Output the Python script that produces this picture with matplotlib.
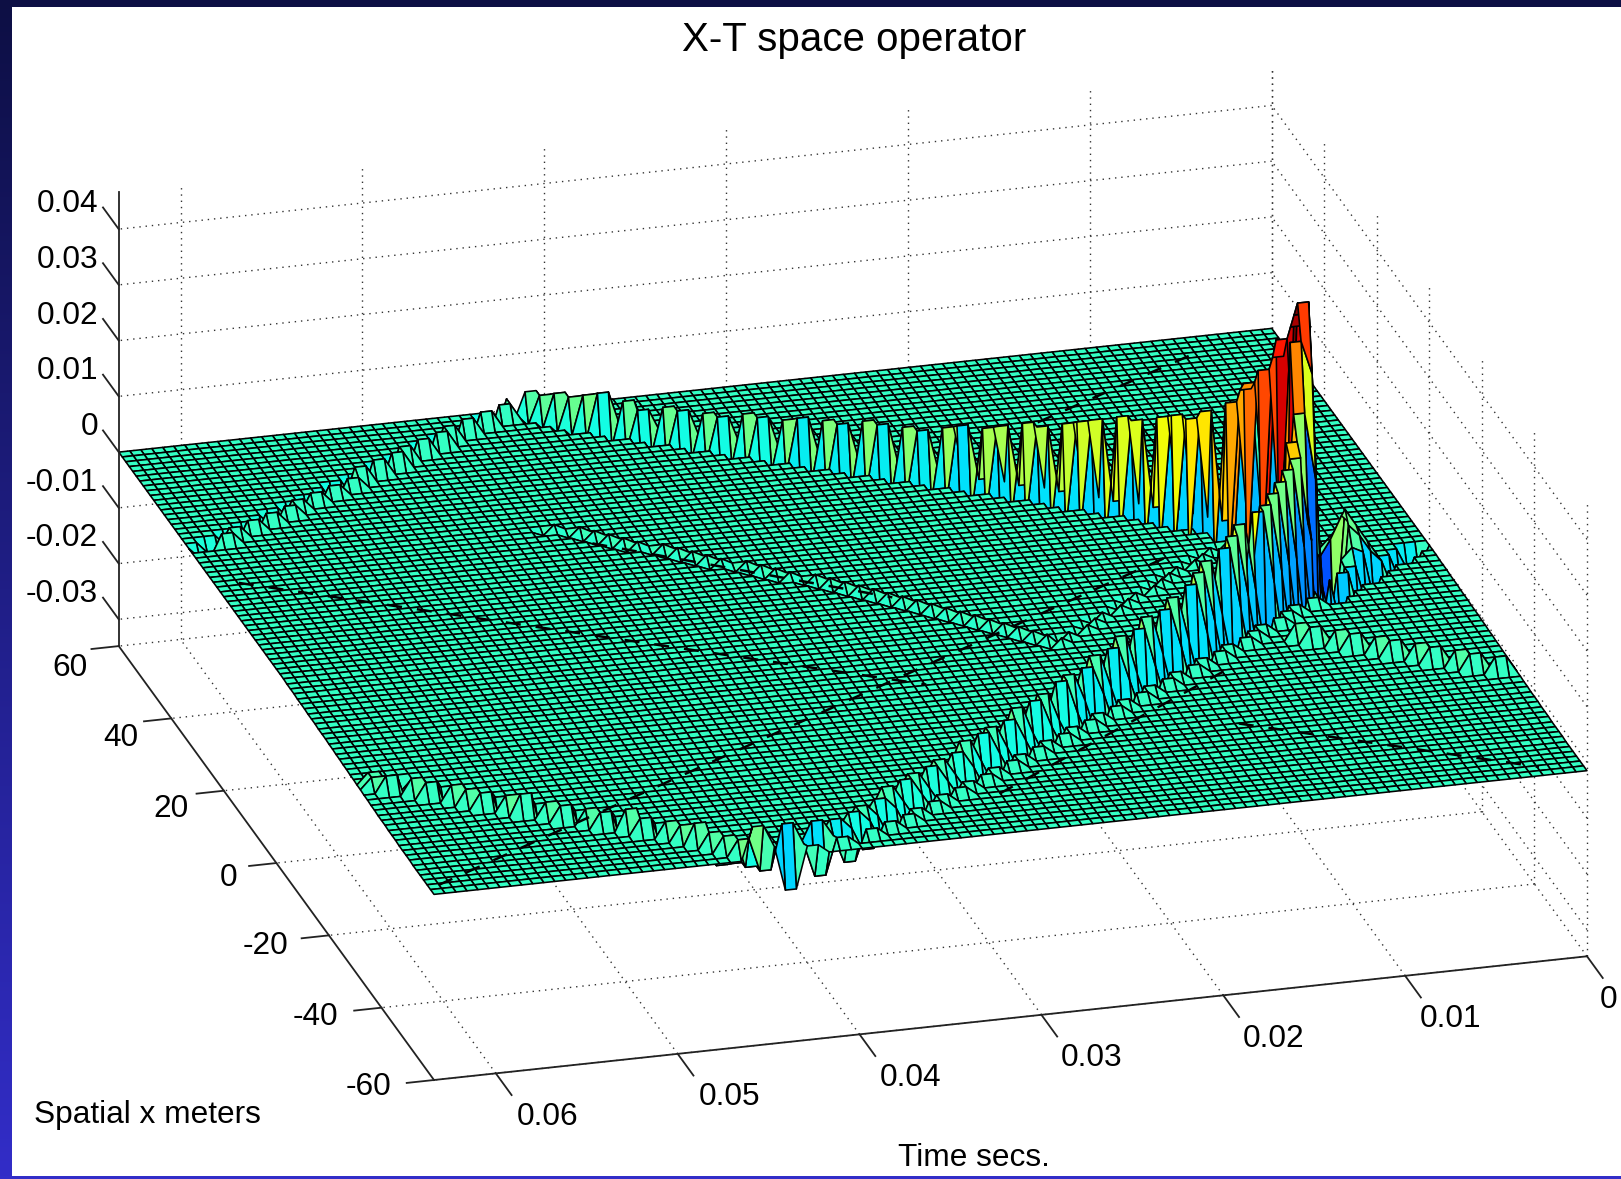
import numpy as np
import matplotlib
matplotlib.use("Agg")
import matplotlib.pyplot as plt
from matplotlib.patches import Rectangle
from mpl_toolkits.mplot3d import proj3d

plt.rcParams['font.family'] = ['Liberation Sans', 'DejaVu Sans']

W, H = 1621, 1179
T_MAX = 0.0634
Z_LO, Z_HI = -0.0348, 0.0467

t_ticks = [0, 0.01, 0.02, 0.03, 0.04, 0.05, 0.06]
t_labels = ['0', '0.01', '0.02', '0.03', '0.04', '0.05', '0.06']
x_ticks = [-60, -40, -20, 0, 20, 40, 60]
z_ticks = [-0.03, -0.02, -0.01, 0, 0.01, 0.02, 0.03, 0.04]
z_labels = ['-0.03', '-0.02', '-0.01', '0', '0.01', '0.02', '0.03', '0.04']

# main wavefront, read row by row going out from the apex (ms, and z in 0.001)
back_time = [7.3, 7.36, 7.5, 7.7, 7.9, 8.3, 8.8, 9.3, 9.96, 10.65, 11.4, 12.2, 12.98, 13.8, 14.6, 15.5,
             16.3, 17.2, 18.05, 18.95, 19.85, 20.7, 21.6, 22.5, 23.4, 24.3, 25.2, 26.1, 27.0, 27.9, 28.8,
             29.7, 30.6, 31.5, 32.4, 33.3, 34.2, 35.2, 36.1, 37.0, 37.9, 38.8, 39.5, 40.0, 40.5, 41.0]
back_peak = [46, 43, 40, 37, 33, 30, 27, 25, 22, 20, 18, 18, 17, 16, 16, 15, 14, 13, 12, 12, 11, 10, 10, 9,
             8, 8, 8, 8, 7, 7, 7, 6, 6, 6, 5, 5, 5, 5, 4, 5, 6, 5, 4, 4, 3, 3]
back_trough = [-8, -8, -8, -8, -8, -7, -7, -7, -7, -6, -6, -6, -6, -6, -6, -5, -5, -5, -5, -5, -5, -5, -4,
               -4, -4, -4, -4, -4, -4, -4, -3, -3, -3, -3, -3, -3, -3, -3, -3, -3, -2, -2, -2, -2, -2, -2]
front_time = [7.3, 7.5, 7.8, 8.1, 8.5, 9.0, 9.6, 10.3, 11.0, 11.8, 12.6, 13.4, 14.2, 15.1, 16.0, 16.9, 17.8,
              18.7, 19.6, 20.5, 21.4, 22.3, 23.2, 24.1, 25.0, 25.9, 26.8, 27.7, 28.6, 29.5, 30.4, 31.3,
              32.2, 33.1, 34.0, 34.9, 35.8, 36.7, 37.6, 38.5, 39.4, 40.6, 41.8, 43.2, 45.0]
front_peak = [40, 28, 24, 22, 21, 20, 19, 18, 18, 17, 16, 15, 14, 13, 12, 11, 10, 10, 9, 9, 8, 8, 7, 7, 7,
              6, 6, 6, 5, 5, 5, 5, 4, 4, 4, 4, 4, 4, 3, 3, 3, 3, 4, 5, 6]
front_mid = [34, 16, 9, 7, 7, 6, 6, 6, 5, 5, 5, 4, 4, 4, 3, 3, 3, 3, 2, 2, 2, 2, 2, 2, 1, 1, 1, 1, 1, 1, 1, 1,
             1, 1, 1, 1, 1, 1, 1, 1, 1, 1, 1, 1, 2]
front_trough = [-16, -15, -14, -13, -12, -11, -10, -9, -8, -8, -7, -7, -6, -6, -6, -5, -5, -5, -5, -4, -4,
                -4, -4, -4, -4, -3, -3, -3, -3, -3, -3, -3, -3, -2, -2, -2, -2, -2, -3, -3, -3, -3, -4, -5, -6]

# low band running from the apex to the t=0 edge: grid row, time ms
lip_row = [45, 44, 43, 42, 41, 40, 39, 38, 37]
lip_time = [0.5, 1.2, 2.0, 2.8, 3.6, 4.4, 5.2, 6.0, 6.8]
lip_z = [-4, -5, -5, -6, -6, -6, -7, -7, -7]

# wrapped ridges at the far time end, by grid row from the x edge
wrap_front_time = [45.0, 45.6, 46.2, 46.9, 47.6, 48.3, 49.1, 50.0, 50.8, 51.7, 52.6, 53.5, 54.4, 55.3, 56.2,
                   57.1, 58.0, 58.8, 59.7, 60.6, 61.5, 62.4, 63.3]
wrap_front_peak = [5, 3, 3, 3, 4, 3, 3, 3, 4, 3, 3, 3, 3, 4, 3, 3, 3, 3, 3, 3, 3, 2, 2]
wrap_back_time = [41.0, 42.0, 43.0, 44.1, 45.1, 46.2, 47.2, 48.2, 49.3, 50.3, 51.4, 52.4, 53.4, 54.5, 55.5,
                  56.6, 57.6, 58.6, 59.7, 60.7, 61.8]
wrap_back_peak = [3, 3, 3, 3, 3, 3, 3, 3, 3, 3, 3, 3, 2, 2, 2, 2, 2, 2, 2, 2, 2]

# small ripple near the right corner: x row, time ms
ripple_row = [20, 21, 22, 23, 24, 25, 26, 27, 28, 29, 30]
ripple_time = [0.6, 1.6, 2.5, 3.5, 4.4, 5.3, 6.2, 7.1, 8.0, 8.9, 9.8]

# lattice band inside the V, rows 66 down to 34, then its return towards the apex, rows 35 up to 49
inner_time = [43.8, 43.1, 42.4, 41.6, 40.9, 40.2, 39.5, 38.7, 38.0, 37.3, 36.6, 35.8, 35.1, 34.4, 33.7, 32.9,
              32.2, 31.5, 30.8, 30.0, 29.3, 28.7, 28.1, 27.5, 27.0, 26.4, 25.8, 25.2, 24.6, 24.1, 23.5, 22.9, 22.4]
return_time = [21.6, 20.8, 20.0, 19.2, 18.4, 17.6, 16.8, 16.0, 15.2, 14.4, 13.6, 12.8, 12.0, 11.2, 10.4]

# green bump beside the apex: t columns by x rows, z in 0.001
hump_rows = [42, 43, 44, 45, 46]
hump_cols = [6, 7, 8, 9]
hump_z = [[1, 3, 4, 2],
          [2, 5, 7, 3],
          [3, 6, 9, 4],
          [2, 5, 7, 3],
          [1, 3, 4, 2]]

# sag of the surface towards the x=-60 edge, rows 0 to 45, in 0.001
row_level = [-1.5, -1.5, -1.5, -1.5, -1.5, -1.5, -1.5, -1.4, -1.4, -1.4, -1.4, -1.3, -1.3, -1.3, -1.2, -1.2,
             -1.2, -1.1, -1.1, -1.0, -1.0, -0.9, -0.9, -0.8, -0.8, -0.7, -0.7, -0.6, -0.6, -0.5, -0.5, -0.4,
             -0.4, -0.4, -0.3, -0.3, -0.3, -0.2, -0.2, -0.2, -0.1, -0.1, -0.1, 0, 0, 0]

# dark creases across the flat part: (t0 ms, x0, t1 ms, x1)
crease_t0 = [63.0, 62.0, 15.3, 16.2, 42.5, 31.0]
crease_x0 = [-59.0, 24.0, 43.2, -39.6, 24.4, -51.0]
crease_t1 = [13.0, 30.7, 4.4, 2.5, 29.2, 14.4]
crease_x1 = [6.0, -21.0, 57.0, -59.0, 2.3, -24.8]

# pixel nudges of the tick labels, (right, down)
x_nudge = [(-10, -12), (-10, -9), (-8, -8), (-6, -4), (-2, 0), (0, 1), (2, 3)]
t_nudge = [(-6, 3), (-4, 3), (1, 3), (1, 3), (2, 3), (3, 3), (3, 3)]

t_grid = np.linspace(0, T_MAX, 106)
x_grid = np.linspace(-60, 60, 91)
apex_row = 45
z_grid = np.zeros((len(x_grid), len(t_grid)))


def col_of(ms):
    return min(int(np.argmin(np.abs(t_grid - ms * 1e-3))), len(t_grid) - 3)


def put(row, first, last, value):
    # clipped so ridges near the edges stay on the grid
    z_grid[row, max(first, 0):min(last, len(t_grid) - 1) + 1] = value


for row, ms in zip(range(66, 33, -1), inner_time):
    c = col_of(ms)
    put(row, c, c, 0.001)
    put(row, c + 1, c + 1, -0.0008)
for row, ms in zip(range(35, 50), return_time):
    c = col_of(ms)
    put(row, c, c, 0.001)
    put(row, c + 1, c + 1, -0.0008)
for row, ms, amp in zip(range(len(wrap_front_time)), wrap_front_time, wrap_front_peak):
    c = col_of(ms)
    put(row, c, c + 1, amp * 1e-3)
    put(row, c - 2, c - 1, -amp * 1e-3)
for row, ms, amp in zip(range(90, 0, -1), wrap_back_time, wrap_back_peak):
    c = col_of(ms)
    put(row, c - 1, c, amp * 1e-3)
    put(row, c + 1, c + 2, -amp * 1e-3)
for row, ms in zip(ripple_row, ripple_time):
    c = col_of(ms)
    put(row, c, c + 1, 0.003)
for k, (ms, pk, tr) in enumerate(zip(back_time, back_peak, back_trough)):
    c = col_of(ms)
    put(apex_row + k, c - 1, c, pk * 1e-3)
    put(apex_row + k, c + 1, c + 2, tr * 1e-3)
for i, row in enumerate(hump_rows):
    for j, col in enumerate(hump_cols):
        z_grid[row, col] = hump_z[i][j] * 1e-3
for k, (ms, pk, mid, tr) in enumerate(zip(front_time, front_peak, front_mid, front_trough), start=1):
    c = col_of(ms)
    put(apex_row - k, c, c + 1, pk * 1e-3)
    put(apex_row - k, c - 1, c - 1, mid * 1e-3)
    put(apex_row - k, c - 3, c - 2, tr * 1e-3)
    if k >= 4:
        put(apex_row - k, c - 5, c - 4, 0.0015)
for row, ms, dip in zip(lip_row, lip_time, lip_z):
    c = col_of(ms)
    put(row, c, c + 1, dip * 1e-3)

z_draw = z_grid.copy()
for row, level in enumerate(row_level):
    z_draw[row] += level * 1e-3

fig = plt.figure(figsize=(W / 100, H / 100), dpi=100, facecolor='white')

# slide frame
ramp = np.linspace(0, 1, H)[:, None, None]
strip = np.array([13, 15, 68]) + ramp * (np.array([50, 45, 200]) - np.array([13, 15, 68]))
fig.figimage(np.repeat(strip, 12, axis=1) / 255, xo=0, yo=0, origin='upper', zorder=0)
fig.add_artist(Rectangle((0, 1 - 7 / H), 1, 7 / H, transform=fig.transFigure, color='#0d0f44', lw=0))
fig.add_artist(Rectangle((0, 0), 1, 3 / H, transform=fig.transFigure, color='#322dc8', lw=0))

ax = fig.add_axes([0, 0, H / W, 1], projection='3d', facecolor='none')
ax.set_proj_type('ortho')
ax.view_init(elev=22.6, azim=254.4)
ax.set_box_aspect((1158, 1134, 476))
ax.set_xlim(T_MAX, 0)
ax.set_ylim(-60, 60)
ax.set_zlim(Z_LO, Z_HI)
ax.set_axis_off()
ax.computed_zorder = False


def corner_px(t, x, z):
    ax.apply_aspect()
    a, b, _ = proj3d.proj_transform(t, x, z, ax.get_proj())
    return ax.transData.transform((a, b))


def label_at(t, x, z, text, ha, va, nudge=(0, 0)):
    px = corner_px(t, x, z)
    fig.text((px[0] + nudge[0]) / W, (px[1] - nudge[1]) / H, text, ha=ha, va=va, fontsize=22.8)


# fit the box on the left front and right front floor corners
left_px = np.array([434, H - 1080])
right_px = np.array([1587, H - 957])
p0, p1 = corner_px(T_MAX, -60, Z_LO), corner_px(0, -60, Z_LO)
side = H * (right_px[0] - left_px[0]) / (p1[0] - p0[0])
ax.set_position([0, 0, side / W, side / H])
shift = left_px - corner_px(T_MAX, -60, Z_LO)
ax.set_position([shift[0] / W, shift[1] / H, side / W, side / H])

dots = dict(color='#333333', lw=1.0, ls=(0, (1, 3.5)), zorder=1)
for t in t_ticks:
    ax.plot([t, t], [-60, 60], [Z_LO, Z_LO], **dots)
    ax.plot([t, t], [60, 60], [Z_LO, Z_HI], **dots)
for x in x_ticks:
    ax.plot([0, T_MAX], [x, x], [Z_LO, Z_LO], **dots)
    ax.plot([0, 0], [x, x], [Z_LO, Z_HI], **dots)
for z in z_ticks:
    ax.plot([0, T_MAX], [60, 60], [z, z], **dots)
    ax.plot([0, 0], [-60, 60], [z, z], **dots)

norm = plt.Normalize(-0.032, 0.046)
T, X = np.meshgrid(t_grid, x_grid)
ax.plot_surface(T, X, z_draw, rstride=1, cstride=1, facecolors=plt.cm.jet(norm(z_grid)), shade=False,
                edgecolor='black', linewidth=1.15, zorder=2)

for t0, x0, t1, x1 in zip(crease_t0, crease_x0, crease_t1, crease_x1):
    ax.plot([t0 * 1e-3, t1 * 1e-3], [x0, x1], [-0.0006, -0.0006], color='black', lw=1.8, ls=(0, (6, 6)), zorder=3)

solid = dict(color='#222222', lw=1.3, zorder=4)
ax.plot([0, T_MAX], [-60, -60], [Z_LO, Z_LO], **solid)
ax.plot([T_MAX, T_MAX], [-60, 60], [Z_LO, Z_LO], **solid)
ax.plot([T_MAX, T_MAX], [60, 60], [Z_LO, Z_HI], **solid)

for t, label, nudge in zip(t_ticks, t_labels, t_nudge):
    ax.plot([t, t], [-60, -66], [Z_LO, Z_LO], **solid)
    label_at(t, -67, Z_LO, label, 'left', 'top', nudge)
for x, nudge in zip(x_ticks, x_nudge):
    ax.plot([T_MAX, T_MAX + 0.0015], [x, x], [Z_LO, Z_LO], **solid)
    label_at(T_MAX + 0.0018, x, Z_LO, str(x), 'right', 'top', nudge)
for z, label in zip(z_ticks, z_labels):
    ax.plot([T_MAX, T_MAX], [60, 66], [z, z], **solid)
    label_at(T_MAX, 67.5, z, label, 'right', 'center', (-1, 2))

fig.text(854 / W, 1 - 40 / H, 'X-T space operator', ha='center', va='center', fontsize=29)
fig.text(34 / W, 1 - 1115 / H, 'Spatial x meters', ha='left', va='center', fontsize=22.8)
fig.text(974 / W, 1 - 1158 / H, 'Time secs.', ha='center', va='center', fontsize=22.8)

fig.savefig('out.png', dpi=100)
